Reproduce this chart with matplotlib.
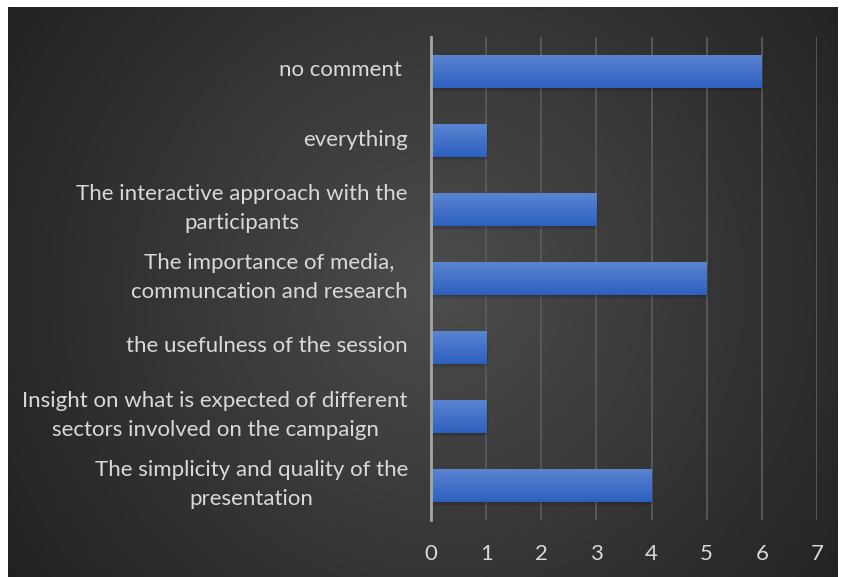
import numpy as np
import matplotlib.pyplot as plt
import matplotlib.transforms as mtransforms
from matplotlib.patches import Rectangle

categories = [
    "The simplicity and quality of the\npresentation",
    "Insight on what is expected of different\nsectors involved on the campaign",
    "the usefulness of the session",
    "The importance of media,\ncommuncation and research",
    "The interactive approach with the\nparticipants",
    "everything",
    "no comment ",
]
values = [4, 1, 1, 5, 3, 1, 6]
x_ticks = [0, 1, 2, 3, 4, 5, 6, 7]

TEXT_COLOR = '#d9d9d9'
FONT = ['Lato', 'DejaVu Sans']

fig = plt.figure(figsize=(8.43, 5.77), dpi=100)
fig.patch.set_facecolor('white')

# dark radial background panel
W, H = 843, 577
bg = fig.add_axes([8 / W, 0, (838 - 8) / W, (577 - 7) / H])
bg.set_axis_off()
yy, xx = np.mgrid[0:570, 0:830]
cx, cy = 430, 280
r = np.sqrt((xx - cx) ** 2 + (yy - cy) ** 2)
r = r / r.max()
shade = 0.30 - 0.17 * r
img = np.dstack([shade, shade, shade])
bg.imshow(img, aspect='auto', interpolation='bilinear')

ax = fig.add_axes([431 / W, 1 - 520 / H, (817 - 431) / W, (520 - 37) / H])
ax.set_facecolor('none')
y = np.arange(len(categories))
bars = ax.barh(y, values, height=0.48, color='#4472c4', zorder=3)

# gradient fill + soft shadow for each bar
grad = np.linspace(0, 1, 50).reshape(-1, 1)
top = np.array([0x5b, 0x85, 0xd1]) / 255
bot = np.array([0x2d, 0x60, 0xbf]) / 255
gimg = top + (bot - top) * grad[:, :, None]
for b in bars:
    x0, y0 = b.get_x(), b.get_y()
    w, h = b.get_width(), b.get_height()
    for k, a in enumerate([0.10, 0.07, 0.04]):
        d = 0.03 * (k + 1)
        ax.add_patch(Rectangle((x0 + d * 0.5, y0 - d * 0.6), w, h, facecolor='black',
                               alpha=a, linewidth=0, zorder=2))
    im = ax.imshow(gimg, extent=(x0, x0 + w, y0, y0 + h), aspect='auto',
                   origin='upper', zorder=4)
    im.set_clip_path(b)
    b.set_facecolor('none')

ax.set_xlim(0, 7)
ax.set_ylim(-0.5, len(categories) - 0.5)
ax.set_xticks(x_ticks)
ax.set_xticklabels([str(t) for t in x_ticks], color=TEXT_COLOR, fontsize=16, family=FONT)
ax.set_yticks(y)
ax.set_yticklabels([])

# category labels, drawn as text so multi-line ones centre on the bar
lbl_tr = ax.get_yaxis_transform() + mtransforms.ScaledTranslation(-23 / 100, 1 / 100, fig.dpi_scale_trans)
for i, c in enumerate(categories):
    ax.text(0, y[i], c, transform=lbl_tr, ha='right', va='center', multialignment='center',
            color=TEXT_COLOR, fontsize=16, family=FONT, linespacing=1.6)

ax.tick_params(axis='both', length=0)
ax.tick_params(axis='x', pad=17)
ax.grid(axis='x', color='#5a5a5a', linewidth=1.3, zorder=1)
ax.set_axisbelow(True)
for s in ['top', 'right', 'bottom']:
    ax.spines[s].set_visible(False)
ax.spines['left'].set_color('#a6a6a6')
ax.spines['left'].set_linewidth(2)
ax.spines['left'].set_zorder(5)

fig.savefig('out.png', dpi=100, facecolor='white')
